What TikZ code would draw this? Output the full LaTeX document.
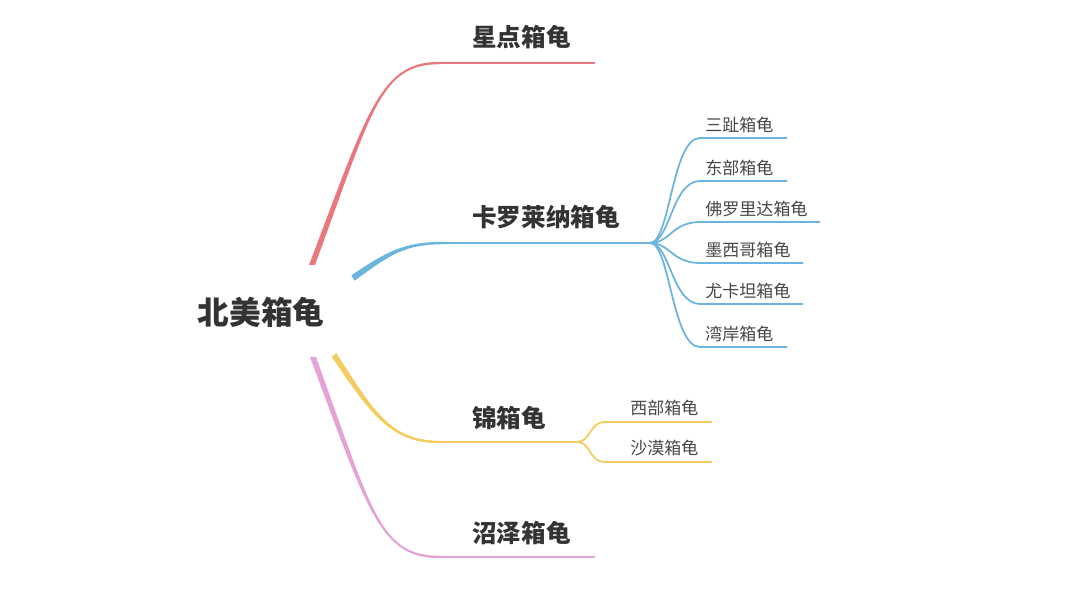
\documentclass[tikz,border=0pt]{standalone}
\usepackage{fontspec}
\setmainfont{Noto Sans CJK SC}
\usetikzlibrary{calc}
\definecolor{brRed}{HTML}{E8787E}
\definecolor{brBlue}{HTML}{6AB4DD}
\definecolor{brYellow}{HTML}{F3CB5E}
\definecolor{brPink}{HTML}{E6A2D6}
\definecolor{txt}{HTML}{333333}
\tikzset{
  rootlabel/.style={font=\fontsize{18}{20}\selectfont\bfseries, text=txt, inner sep=0pt},
  toplabel/.style={font=\fontsize{14}{16}\selectfont\bfseries, text=txt, inner sep=0pt, anchor=west},
  sublabel/.style={font=\fontsize{9.7}{11}\selectfont, text=txt!90, inner sep=0pt, anchor=west},
  mainline/.style={line width=1.3pt},
  subline/.style={line width=1pt}
}
% tapered branch: colour, start, control 1, control 2, end, half-width at start
\newcommand\taper[6]{%
  \fill[#1] ($(#2)+(#6)$) .. controls ($(#3)+0.7*(#6)$) and ($(#4)+(0,-1.2)$) .. ($(#5)+(0,-1.2)$)
    -- ($(#5)+(0,1.2)$) .. controls ($(#4)+(0,1.2)$) and ($(#3)-0.7*(#6)$) .. ($(#2)-(#6)$) -- cycle;}

\begin{document}
\begin{tikzpicture}[x=0.02cm,y=-0.02cm]
  \useasboundingbox (0,0) rectangle (1080,601);
  \node[rootlabel] (root) at (261,312) {北美箱龟};

  % branch points
  \coordinate (rS) at (312,265); \coordinate (rA) at (370,110); \coordinate (rB) at (380,63);
  \coordinate (rE) at (440,63);  \coordinate (rT) at (595,63);
  \coordinate (bS) at (353,278); \coordinate (bA) at (390,252); \coordinate (bB) at (405,243);
  \coordinate (bE) at (445,243); \coordinate (bH) at (650,243);
  \coordinate (yS) at (334,355); \coordinate (yA) at (372,412); \coordinate (yB) at (390,442);
  \coordinate (yE) at (440,442); \coordinate (yH) at (577,442);
  \coordinate (pS) at (313,357); \coordinate (pA) at (370,512); \coordinate (pB) at (380,557);
  \coordinate (pE) at (440,557); \coordinate (pT) at (595,557);

  % main branches
  \taper{brRed}{rS}{rA}{rB}{rE}{-3,0}
  \draw[brRed, mainline] (rE) -- (rT);
  \taper{brBlue}{bS}{bA}{bB}{bE}{-1.6,-2.7}
  \draw[brBlue, mainline] (bE) -- (bH);
  \taper{brYellow}{yS}{yA}{yB}{yE}{2.2,-2}
  \draw[brYellow, mainline] (yE) -- (yH);
  \taper{brPink}{pS}{pA}{pB}{pE}{3,0}
  \draw[brPink, mainline] (pE) -- (pT);

  \node[toplabel] (nStar)  at (472,37)  {星点箱龟};
  \node[toplabel] (nCaro)  at (472,217) {卡罗莱纳箱龟};
  \node[toplabel] (nOrn)   at (472,418) {锦箱龟};
  \node[toplabel] (nMarsh) at (472,533) {沼泽箱龟};

  % carolina sub-branches
  \foreach \nm/\yy/\xe/\txt in {cTri/138/787/三趾箱龟, cEast/181/787/东部箱龟,
      cFla/222/820/佛罗里达箱龟, cMex/263/803/墨西哥箱龟,
      cYuc/304/803/尤卡坦箱龟, cGulf/347/787/湾岸箱龟} {
    \coordinate (\nm S) at (700,\yy);
    \coordinate (\nm T) at (\xe,\yy);
    \draw[brBlue, subline] (bH) .. controls ($(bH)+(20,0)$) and ($(\nm S)+(-28,0)$) .. (\nm S) -- (\nm T);
    \node[sublabel] (\nm) at (705,\yy-13) {\txt};
  }

  % ornate sub-branches
  \foreach \nm/\yy/\txt in {oWest/422/西部箱龟, oDes/462/沙漠箱龟} {
    \coordinate (\nm S) at (605,\yy);
    \coordinate (\nm T) at (712,\yy);
    \draw[brYellow, subline] (yH) .. controls ($(yH)+(14,0)$) and ($(\nm S)+(-16,0)$) .. (\nm S) -- (\nm T);
    \node[sublabel] (\nm) at (630,\yy-14) {\txt};
  }
\end{tikzpicture}
\end{document}
